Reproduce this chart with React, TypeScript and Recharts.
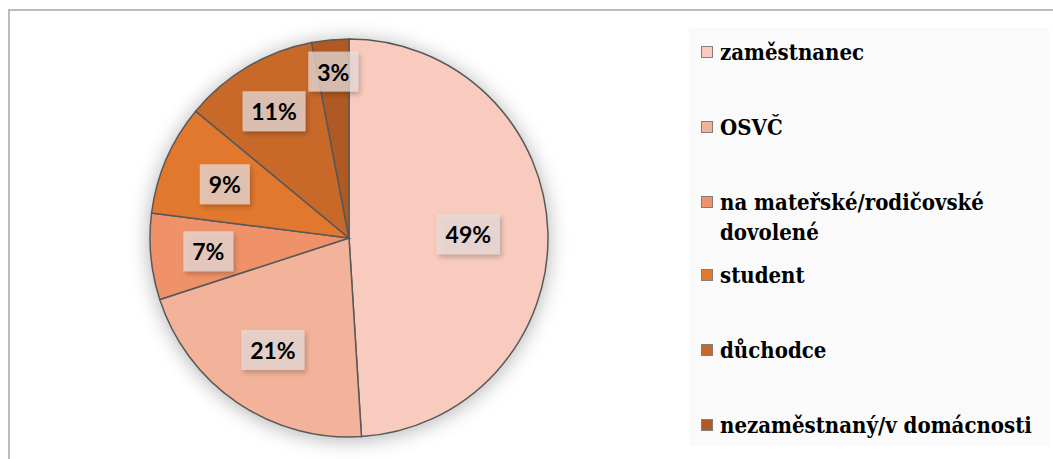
import React from 'react';
import { PieChart, Pie, Cell } from 'recharts';

const categories = [
  'zaměstnanec',
  'OSVČ',
  'na mateřské/rodičovské dovolené',
  'student',
  'důchodce',
  'nezaměstnaný/v domácnosti',
];
const shares = [49, 21, 7, 9, 11, 3];

const COLORS = ['#F8CBBE', '#F3B39A', '#F09269', '#E2782F', '#C8692A', '#AF5A22'];
const LABEL_R = [0.6, 0.68, 0.71, 0.68, 0.74, 0.84];
const LEGEND_TOP = [9, 84, 159, 232, 307, 382];

const data = categories.map((name, i) => ({ name, value: shares[i] }));

const RADIAN = Math.PI / 180;

const renderLabel = (props: any) => {
  const { cx, cy, midAngle, outerRadius, index, value } = props;
  const r = outerRadius * LABEL_R[index];
  const x = cx + r * Math.cos(-midAngle * RADIAN);
  const y = cy + r * Math.sin(-midAngle * RADIAN);
  const txt = `${value}%`;
  const w = txt.length > 2 ? 63 : 50;
  const h = 40;
  return (
    <g key={`lbl-${index}`}>
      <rect
        x={x - w / 2}
        y={y - h / 2}
        width={w}
        height={h}
        fill="#E8DEDC"
        fillOpacity={0.72}
        filter="url(#lblShadow)"
      />
      <text
        x={x}
        y={y}
        textAnchor="middle"
        dominantBaseline="central"
        fontFamily="Lato, 'Open Sans', sans-serif"
        fontWeight={700}
        fontSize={23}
        fill="#000"
      >
        {txt}
      </text>
    </g>
  );
};

function LegendBox() {
  return (
    <div
      style={{
        position: 'absolute',
        left: 689,
        top: 28,
        width: 360,
        height: 418,
        background: '#FAFAFA',
      }}
    >
      {categories.map((name, i) => (
        <div
          key={name}
          style={{
            position: 'absolute',
            left: 12,
            top: LEGEND_TOP[i],
            width: 345,
            display: 'flex',
            alignItems: 'flex-start',
          }}
        >
          <div
            style={{
              width: 10,
              height: 10,
              marginTop: 9,
              marginRight: 7,
              background: COLORS[i],
              border: '1.5px solid #7F7F7F',
              flex: 'none',
            }}
          />
          <div
            style={{
              fontFamily: '"DejaVu Serif Condensed", "DejaVu Serif"',
              fontStretch: 'condensed',
              fontWeight: 'bold',
              fontSize: 22,
              lineHeight: '30px',
              color: '#000',
              width: 330,
            }}
          >
            {name}
          </div>
        </div>
      ))}
    </div>
  );
}

export default function App() {
  return (
    <div
      style={{
        position: 'absolute',
        left: 0,
        top: 0,
        width: 1053,
        height: 459,
        overflow: 'hidden',
        background: '#fff',
      }}
    >
      <style>{`.recharts-pie { filter: url(#pieShadow); }`}</style>
      <div
        style={{
          position: 'absolute',
          left: 8,
          top: 9,
          width: 1100,
          height: 500,
          borderTop: '2px solid #BBBBBB',
          borderLeft: '2px solid #BBBBBB',
        }}
      />
      <LegendBox />
      <div style={{ position: 'absolute', left: 0, top: 0 }}>
        <PieChart width={680} height={459} margin={{ top: 0, right: 0, bottom: 0, left: 0 }}>
          <defs>
            <filter id="pieShadow" x="-20%" y="-20%" width="140%" height="140%">
              <feDropShadow dx="0" dy="2" stdDeviation="10" floodColor="#000" floodOpacity="0.3" />
            </filter>
            <filter id="lblShadow" x="-30%" y="-30%" width="160%" height="160%">
              <feDropShadow dx="2" dy="3" stdDeviation="2.5" floodColor="#000" floodOpacity="0.3" />
            </filter>
          </defs>
          <Pie
            data={data}
            dataKey="value"
            nameKey="name"
            cx={349}
            cy={238}
            outerRadius={199}
            startAngle={90}
            endAngle={-270}
            stroke="#595959"
            strokeWidth={1.5}
            label={renderLabel}
            labelLine={false}
            isAnimationActive={false}
          >
            {data.map((d, i) => (
              <Cell key={d.name} fill={COLORS[i]} />
            ))}
          </Pie>
        </PieChart>
      </div>
    </div>
  );
}
